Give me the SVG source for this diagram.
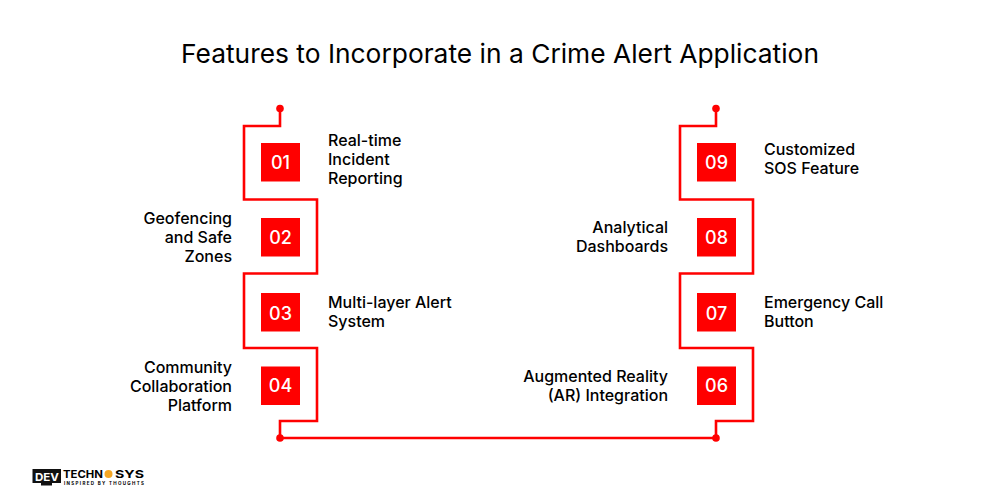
<svg xmlns="http://www.w3.org/2000/svg" width="1000" height="500" viewBox="0 0 1000 500">
<style>
text{font-family:"Inter","Liberation Sans",sans-serif;fill:#000}
.t{font-size:16px;font-weight:500}
.e{text-anchor:end}
.n{font-size:18px;font-weight:500;fill:#fff;text-anchor:middle}
.b{fill:#f00}
.c{fill:none;stroke:#f00;stroke-width:2.600}
</style>
<rect width="1000" height="500" fill="#fff"/>
<text id="title" x="500" y="63" text-anchor="middle" font-size="26" font-weight="400" textLength="638" lengthAdjust="spacingAndGlyphs">Features to Incorporate in a Crime Alert Application</text>
<g id="connectors">
<path class="c" d="M280 108V126H244V199.500H317V273.500H244V348H317V421H280V438H716V421H753V348H680V273.500H753V199.500H680V126H716V108"/>
<circle class="b" cx="280" cy="108.500" r="3.800"/><circle class="b" cx="716" cy="108.500" r="3.800"/>
<circle class="b" cx="280" cy="438" r="3.800"/><circle class="b" cx="716" cy="438" r="3.800"/>
</g>
<g id="node-01"><rect class="b" x="261" y="143" width="39" height="38.500"/><text class="n" x="280.500" y="168.500">01</text>
<text class="t" x="328" y="145.500">Real-time</text><text class="t" x="328" y="164.500">Incident</text><text class="t" x="328" y="184">Reporting</text></g>
<g id="node-02"><rect class="b" x="261" y="218" width="39" height="38.500"/><text class="n" x="280.500" y="243.500">02</text>
<text class="t e" x="232" y="224">Geofencing</text><text class="t e" x="232" y="243">and Safe</text><text class="t e" x="232" y="262">Zones</text></g>
<g id="node-03"><rect class="b" x="261" y="293" width="39" height="38.500"/><text class="n" x="280.500" y="319.500">03</text>
<text class="t" x="328" y="308">Multi-layer Alert</text><text class="t" x="328" y="327">System</text></g>
<g id="node-04"><rect class="b" x="261" y="366.500" width="39" height="38.500"/><text class="n" x="280.500" y="392">04</text>
<text class="t e" x="232" y="373">Community</text><text class="t e" x="232" y="392">Collaboration</text><text class="t e" x="232" y="411">Platform</text></g>
<g id="node-09"><rect class="b" x="697" y="143" width="39" height="38.500"/><text class="n" x="716.500" y="168.500">09</text>
<text class="t" x="764" y="155">Customized</text><text class="t" x="764" y="174">SOS Feature</text></g>
<g id="node-08"><rect class="b" x="697" y="218" width="39" height="38.500"/><text class="n" x="716.500" y="243.500">08</text>
<text class="t e" x="668" y="233">Analytical</text><text class="t e" x="668" y="252">Dashboards</text></g>
<g id="node-07"><rect class="b" x="697" y="293" width="39" height="38.500"/><text class="n" x="716.500" y="319.500">07</text>
<text class="t" x="764" y="308">Emergency Call</text><text class="t" x="764" y="327">Button</text></g>
<g id="node-06"><rect class="b" x="697" y="366.500" width="39" height="38.500"/><text class="n" x="716.500" y="392">06</text>
<text class="t e" x="668" y="382">Augmented Reality</text><text class="t e" x="668" y="401">(AR) Integration</text></g>
<g id="logo">
<rect x="32.500" y="469" width="28.500" height="14" fill="#111"/><rect x="41" y="483" width="11" height="2.500" fill="#111"/>
<text x="47" y="480.500" text-anchor="middle" font-size="11" font-weight="700" style="fill:#fff" textLength="24" lengthAdjust="spacingAndGlyphs">DEV</text>
<text x="63" y="477.500" font-size="11" font-weight="700" textLength="40" lengthAdjust="spacingAndGlyphs">TECHN</text>
<circle cx="108.500" cy="474" r="4" fill="#f5a623"/>
<text x="115" y="477.500" font-size="11" font-weight="700" textLength="29" lengthAdjust="spacingAndGlyphs">SYS</text>
<text x="64" y="485" font-size="4.500" font-weight="700" textLength="80" lengthAdjust="spacing">INSPIRED BY THOUGHTS</text>
</g>
</svg>
